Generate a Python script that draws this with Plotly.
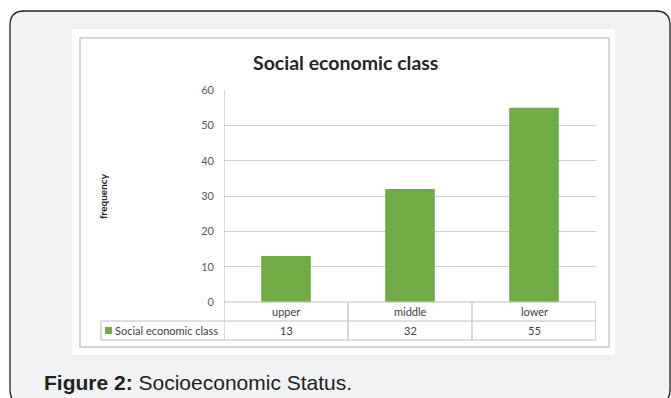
import plotly.graph_objects as go

W, H = 671, 398

categories = ["upper", "middle", "lower"]
values = [13, 32, 55]
series_name = "Social economic class"
chart_title = "Social economic class"
y_title = "frequency"
y_ticks = [0, 10, 20, 30, 40, 50, 60]
caption_bold = "Figure 2:"
caption_rest = " Socioeconomic Status."

GREEN = "#70ad47"
GRID = "#d0d0d0"
TABLE = "#bfbfbf"
TXT = "#404040"


def px(x):
    return x / W


def py(y):
    return (H - y) / H


# plot area in pixels
PL, PR, PT, PB = 224, 596, 90, 302
ROW1, ROW2 = 321, 340
LEG_L = 101

fig = go.Figure()
fig.add_trace(go.Bar(
    x=categories, y=values, name=series_name,
    marker=dict(color=GREEN, line=dict(width=0)),
    showlegend=False,
))

shapes = []

# outer rounded panel
x0, x1, y0, y1, r = 10, 670, 11, 404, 14
rx, ry = r / W, r / H
X0, X1, Y0, Y1 = px(x0), px(x1), py(y1), py(y0)
path = (f"M {X0+rx},{Y1} L {X1-rx},{Y1} Q {X1},{Y1} {X1},{Y1-ry} "
        f"L {X1},{Y0+ry} Q {X1},{Y0} {X1-rx},{Y0} "
        f"L {X0+rx},{Y0} Q {X0},{Y0} {X0},{Y0+ry} "
        f"L {X0},{Y1-ry} Q {X0},{Y1} {X0+rx},{Y1} Z")
shapes.append(dict(type="path", path=path, xref="paper", yref="paper",
                   fillcolor="#f1f2f4", line=dict(color="#222222", width=1.3),
                   layer="below"))
# white chart image
shapes.append(dict(type="rect", xref="paper", yref="paper",
                   x0=px(72), x1=px(615), y0=py(355), y1=py(29),
                   fillcolor="white", line=dict(width=0), layer="below"))
# inner chart border
shapes.append(dict(type="rect", xref="paper", yref="paper",
                   x0=px(80), x1=px(609), y0=py(347), y1=py(38),
                   fillcolor="rgba(0,0,0,0)", line=dict(color="#c8c8c8", width=1.5),
                   layer="below"))

# data table lines
n = len(categories)
for yy in (PB, ROW1, ROW2):
    xs = px(LEG_L) if yy != PB else px(PL)
    shapes.append(dict(type="line", xref="paper", yref="paper",
                       x0=xs, x1=px(PR), y0=py(yy), y1=py(yy),
                       line=dict(color=TABLE, width=1.2)))
for i in range(n + 1):
    top = PT if i == 0 else PB
    shapes.append(dict(type="line", xref="x", yref="paper",
                       x0=i - 0.5, x1=i - 0.5, y0=py(ROW2), y1=py(top),
                       line=dict(color=TABLE, width=1.2)))
shapes.append(dict(type="line", xref="paper", yref="paper",
                   x0=px(LEG_L), x1=px(LEG_L), y0=py(ROW2), y1=py(ROW1),
                   line=dict(color=TABLE, width=1.2)))
# legend key
shapes.append(dict(type="rect", xref="paper", yref="paper",
                   x0=px(105), x1=px(112), y0=py(334), y1=py(327),
                   fillcolor=GREEN, line=dict(width=0)))

annotations = []
TFONT = "Lato, Calibri, sans-serif"
for c, v in zip(categories, values):
    annotations.append(dict(x=c, y=py((PB + ROW1) / 2), xref="x", yref="paper",
                            xanchor="center", yanchor="middle",
                            text=c, showarrow=False, font=dict(family=TFONT, size=11, color=TXT)))
    annotations.append(dict(x=c, y=py((ROW1 + ROW2) / 2), xref="x", yref="paper",
                            xanchor="center", yanchor="middle",
                            text=str(v), showarrow=False, font=dict(family=TFONT, size=11, color=TXT)))
annotations.append(dict(x=px(113), y=py((ROW1 + ROW2) / 2), xref="paper", yref="paper",
                        xanchor="left", yanchor="middle", text=series_name, showarrow=False,
                        font=dict(family=TFONT, size=11, color=TXT)))
annotations.append(dict(x=px(345), y=py(62), xref="paper", yref="paper",
                        xanchor="center", yanchor="middle",
                        text=f"<b>{chart_title}</b>", showarrow=False,
                        font=dict(family=TFONT, size=19.5, color="#262626")))
annotations.append(dict(x=px(103), y=py(196), xref="paper", yref="paper",
                        xanchor="center", yanchor="middle",
                        text=f"<b>{y_title}</b>", textangle=-90, showarrow=False,
                        font=dict(family=TFONT, size=10, color="#262626")))
annotations.append(dict(x=px(42), y=py(382), xref="paper", yref="paper",
                        xanchor="left", yanchor="middle",
                        text=f"<b>{caption_bold}</b>{caption_rest}", showarrow=False,
                        font=dict(family="Liberation Sans, Arial, sans-serif", size=21, color="#222222")))

fig.update_layout(
    width=W, height=H,
    margin=dict(l=0, r=0, t=0, b=0, autoexpand=False),
    paper_bgcolor="white",
    plot_bgcolor="rgba(0,0,0,0)",
    bargap=0.6,
    shapes=shapes,
    annotations=annotations,
    xaxis=dict(domain=[px(PL), px(PR)], range=[-0.5, n - 0.5], automargin=False,
               showticklabels=False, showgrid=False, zeroline=False, showline=False,
               fixedrange=True),
    yaxis=dict(domain=[py(PB), py(PT)], range=[0, 60], tickvals=y_ticks, automargin=False,
               showgrid=True, gridcolor=GRID, gridwidth=1.3, zeroline=False,
               showline=False, ticks="", ticklabelstandoff=9,
               tickfont=dict(family=TFONT, size=11, color="#595959"),
               fixedrange=True),
)

fig.write_html("out.html", config={"displayModeBar": False})
